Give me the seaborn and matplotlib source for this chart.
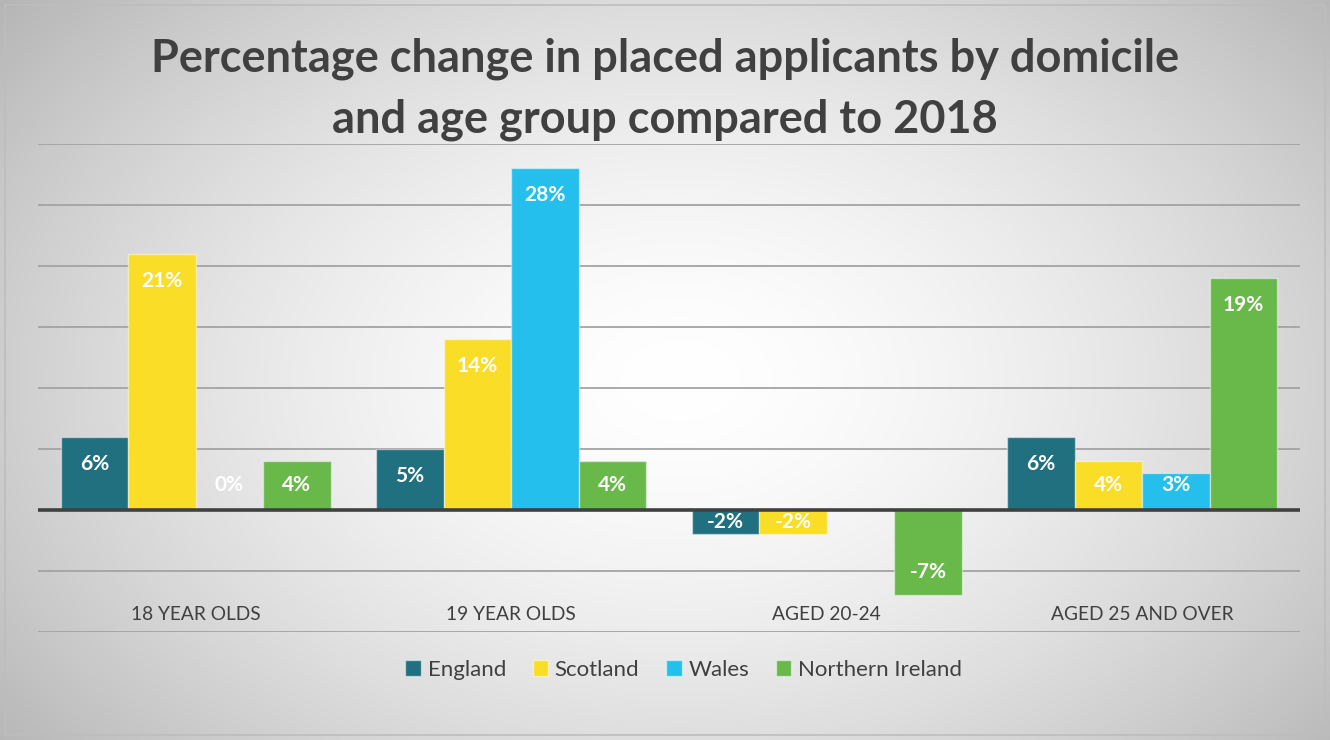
import numpy as np
import pandas as pd
import matplotlib.pyplot as plt
import seaborn as sns
from matplotlib.patches import Rectangle, Patch

# Chart data (percentage change vs 2018)
age_groups = ["18 YEAR OLDS", "19 YEAR OLDS", "AGED 20-24", "AGED 25 AND OVER"]
domiciles = ["England", "Scotland", "Wales", "Northern Ireland"]
england = [6, 5, -2, 6]
scotland = [21, 14, -2, 4]
wales = [0, 28, np.nan, 3]
northern_ireland = [4, 4, -7, 19]
colors = ["#21707F", "#FADD26", "#25BFEE", "#69B84A"]

rows = []
for dom, vals in zip(domiciles, [england, scotland, wales, northern_ireland]):
    for grp, v in zip(age_groups, vals):
        if not np.isnan(v):
            rows.append({"group": grp, "domicile": dom, "value": v})
df = pd.DataFrame(rows)

sns.set_style("white")
plt.rcParams["font.family"] = ["Lato", "DejaVu Sans"]
text_col = "#404040"

fig = plt.figure(figsize=(13.3, 7.4), dpi=100)

# radial gradient background
bg = fig.add_axes([0, 0, 1, 1], zorder=-10)
yy, xx = np.mgrid[0:740, 0:1330]
r = np.sqrt(((xx - 680) / 820.0) ** 2 + ((yy - 380) / 560.0) ** 2)
shade = 1.0 - 0.26 * np.clip(r, 0, 1.3) ** 1.6
bg.imshow(np.dstack([shade] * 3).clip(0, 1), extent=[0, 1, 0, 1], aspect="auto",
          interpolation="bilinear")
bg.set_axis_off()
fig.patches.append(Rectangle((5 / 1330, 5 / 740), 1320 / 1330, 730 / 740,
                             transform=fig.transFigure, fill=False,
                             edgecolor="#BDBDBD", lw=1.2, zorder=5))

ax = fig.add_axes([38 / 1330, 108 / 740, 1262 / 1330, 488 / 740])
ax.set_facecolor("none")

sns.barplot(data=df, x="group", y="value", hue="domicile", order=age_groups,
            hue_order=domiciles, palette=colors, saturation=1, width=0.855,
            errorbar=None, edgecolor=(1, 1, 1, 0.45), linewidth=1.0,
            legend=False, ax=ax, zorder=3)

ax.set_ylim(-10, 30)
ax.set_xlim(-0.5, 3.5)
ax.set_yticks(np.arange(-10, 31, 5))
ax.yaxis.grid(True, color="#A3A3A3", lw=1.3, zorder=0)
ax.set_axisbelow(True)
ax.axhline(0, color="#404040", lw=2.6, zorder=4)
for s in ax.spines.values():
    s.set_visible(False)
ax.set_xlabel("")
ax.set_ylabel("")
ax.tick_params(left=False, bottom=False, labelleft=False, labelbottom=False)

# category labels sit inside the plot, between the lower gridlines
for xpos, name in zip(ax.get_xticks(), age_groups):
    ax.text(xpos, -8.55, name, ha="center", va="center", fontsize=13.8,
            color=text_col)

# value labels, inside the bar end
for p in ax.patches:
    h = p.get_height()
    if np.isnan(h):
        continue
    xc = p.get_x() + p.get_width() / 2
    if h >= 0:
        yl = max(h - 2.2, 2.05)
    else:
        yl = min(h + 1.9, h / 2)
    ax.text(xc, yl, f"{h:.0f}%", ha="center", va="center", fontsize=15,
            fontweight="bold", color="white", zorder=6)

handles = [Patch(facecolor=c, edgecolor=(1, 1, 1, 0.5)) for c in colors]
fig.legend(handles, domiciles, loc="center", bbox_to_anchor=(0.514, 1 - 670 / 740),
           ncol=4, frameon=False, fontsize=16, handlelength=0.7, handleheight=0.7,
           handletextpad=0.3, columnspacing=1.2, labelcolor=text_col)

fig.text(0.5, 1 - 89 / 740, "Percentage change in placed applicants by domicile\nand age group compared to 2018",
         ha="center", va="center", fontsize=32.5, fontweight="bold", color=text_col,
         linespacing=1.55)

fig.savefig("out.png", dpi=100)
